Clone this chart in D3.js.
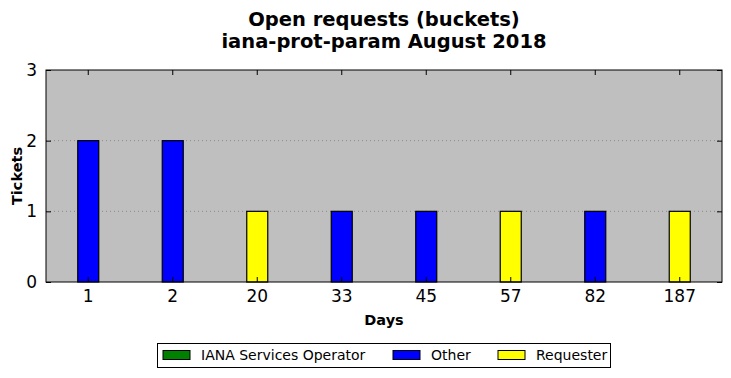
<!DOCTYPE html>
<html>
<head>
<meta charset="utf-8">
<script src="https://cdn.jsdelivr.net/npm/d3@7"></script>
<style>
  body { margin: 0; background: #fff; }
  text { font-family: "DejaVu Sans", sans-serif; }
</style>
</head>
<body>
<svg id="canvas" width="731" height="378"></svg>
<script>
// chart data
let days = ['1', '2', '20', '33', '45', '57', '82', '187'];
let operator = [0, 0, 0, 0, 0, 0, 0, 0];
let other = [2, 2, 0, 1, 1, 0, 1, 0];
let requester = [0, 0, 1, 0, 0, 1, 0, 1];
let yTicks = [0, 1, 2, 3];

let seriesNames = ['IANA Services Operator', 'Other', 'Requester'];
let seriesColors = ['green', 'blue', 'yellow'];

let margin = {left: 46, right: 9, top: 70, bottom: 96};
let width = 731 - margin.left - margin.right;
let height = 378 - margin.top - margin.bottom;

let canvas = d3.select('#canvas');

// titles
canvas.append('text')
    .attr('x', 384).attr('y', 26)
    .attr('text-anchor', 'middle')
    .attr('font-size', '19.5px').attr('font-weight', 'bold')
    .text('Open requests (buckets)');
canvas.append('text')
    .attr('x', 384).attr('y', 48)
    .attr('text-anchor', 'middle')
    .attr('font-size', '19.5px').attr('font-weight', 'bold')
    .text('iana-prot-param August 2018');

let g = canvas.append('g').attr('transform', `translate(${margin.left},${margin.top})`);

let x = d3.scaleBand().domain(days).range([0, width]);
let y = d3.scaleLinear().domain([0, 3]).range([height, 0]);

g.append('rect')
    .attr('width', width).attr('height', height)
    .attr('fill', '#bfbfbf');

// dotted grid
g.selectAll('.grid')
    .data(yTicks.filter(t => t > 0 && t < 3))
    .enter().append('line')
    .attr('x1', 0).attr('x2', width)
    .attr('y1', d => y(d)).attr('y2', d => y(d))
    .attr('stroke', '#8a8a8a')
    .attr('stroke-width', 1)
    .attr('stroke-dasharray', '1,3');

// stacked bars
let rows = days.map((d, i) => ({day: d, operator: operator[i], other: other[i], requester: requester[i]}));
let stack = d3.stack().keys(['operator', 'other', 'requester'])(rows);
let barW = 21;

stack.forEach((layer, k) => {
    g.selectAll('.bar' + k)
        .data(layer.filter(d => d[1] > d[0]))
        .enter().append('rect')
        .attr('x', d => x(d.data.day) + x.bandwidth() / 2 - barW / 2)
        .attr('y', d => y(d[1]))
        .attr('width', barW)
        .attr('height', d => y(d[0]) - y(d[1]))
        .attr('fill', seriesColors[k])
        .attr('stroke', 'black')
        .attr('stroke-width', 1.2);
});

// axes with ticks pointing inward
let xAxis = d3.axisBottom(x).tickSizeInner(-5).tickSizeOuter(0).tickPadding(8);
g.append('g').attr('transform', `translate(0,${height})`).call(xAxis)
    .call(a => a.select('.domain').remove())
    .selectAll('text').attr('font-size', '17px').attr('fill', 'black');

g.append('g').call(d3.axisTop(x).tickSizeInner(-5).tickSizeOuter(0).tickFormat(''))
    .call(a => a.select('.domain').remove());

let yAxis = d3.axisLeft(y).tickValues(yTicks).tickFormat(d3.format('d')).tickSizeInner(-5).tickSizeOuter(0).tickPadding(9);
g.append('g').call(yAxis)
    .call(a => a.select('.domain').remove())
    .selectAll('text').attr('font-size', '17px').attr('fill', 'black');

g.append('g').attr('transform', `translate(${width},0)`)
    .call(d3.axisRight(y).tickValues(yTicks).tickSizeInner(-5).tickSizeOuter(0).tickFormat(''))
    .call(a => a.select('.domain').remove());

// frame
g.append('rect')
    .attr('width', width).attr('height', height)
    .attr('fill', 'none').attr('stroke', 'black').attr('stroke-width', 1);

// axis labels
canvas.append('text')
    .attr('x', margin.left + width / 2).attr('y', 325)
    .attr('text-anchor', 'middle')
    .attr('font-size', '14.5px').attr('font-weight', 'bold')
    .text('Days');
canvas.append('text')
    .attr('transform', `translate(22,${margin.top + height / 2}) rotate(-90)`)
    .attr('text-anchor', 'middle')
    .attr('font-size', '14.5px').attr('font-weight', 'bold')
    .text('Tickets');

// legend
let legend = canvas.append('g');
legend.append('rect')
    .attr('x', 157.5).attr('y', 343.5)
    .attr('width', 453).attr('height', 24)
    .attr('fill', 'white').attr('stroke', 'black').attr('stroke-width', 1);

let legendX = [163, 393, 498];
seriesNames.forEach((name, i) => {
    legend.append('rect')
        .attr('x', legendX[i]).attr('y', 350.5)
        .attr('width', 27).attr('height', 9)
        .attr('fill', seriesColors[i]).attr('stroke', 'black').attr('stroke-width', 1);
    legend.append('text')
        .attr('x', legendX[i] + 38).attr('y', 360)
        .attr('font-size', '14px')
        .text(name);
});
</script>
</body>
</html>
